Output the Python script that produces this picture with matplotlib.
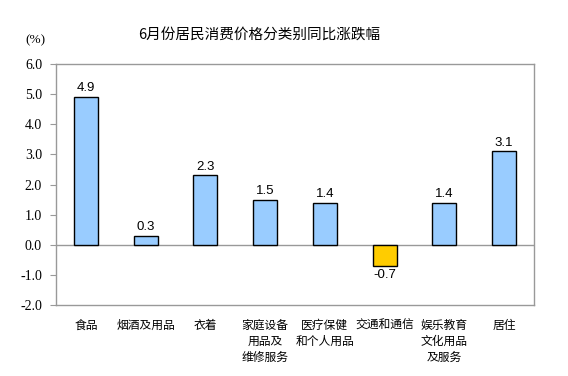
import numpy as np
import matplotlib
matplotlib.use('Agg')
import matplotlib.pyplot as plt

categories = ['食品', '烟酒及用品', '衣着', '家庭设备\n用品及\n维修服务',
              '医疗保健\n和个人用品', '交通和通信', '娱乐教育\n文化用品\n及服务', '居住']
values = [4.9, 0.3, 2.3, 1.5, 1.4, -0.7, 1.4, 3.1]
yticks = [-2.0, -1.0, 0.0, 1.0, 2.0, 3.0, 4.0, 5.0, 6.0]
title = '6月份居民消费价格分类别同比涨跌幅'

cjk = ['Noto Sans CJK SC', 'DejaVu Sans']
plt.rcParams['font.serif'] = ['Liberation Serif', 'Times New Roman', 'DejaVu Serif']
plt.rcParams['font.sans-serif'] = ['Liberation Sans', 'Arial', 'DejaVu Sans']

fig = plt.figure(figsize=(5.68, 3.76), dpi=100)
ax = fig.add_axes([0.0986, 0.1888, 0.8415, 0.641])

x = np.arange(len(values))
colors = ['#99CCFF' if v >= 0 else '#FFCC00' for v in values]
ax.bar(x, values, width=0.4, color=colors, edgecolor='black', linewidth=1.0, zorder=3)
ax.axhline(0, color='#999999', linewidth=1.0, zorder=2)

for xi, v in zip(x, values):
    if v >= 0:
        ax.annotate('{:.1f}'.format(v), (xi, v), xytext=(0, 2), textcoords='offset points',
                    ha='center', va='bottom', fontsize=9.5, family='sans-serif')
    else:
        ax.annotate('{:.1f}'.format(v), (xi, v), xytext=(0, -2), textcoords='offset points',
                    ha='center', va='top', fontsize=9.5, family='sans-serif')

ax.set_xlim(-0.5, len(values) - 0.5)
ax.set_ylim(-2.0, 6.0)
ax.set_yticks(yticks)
ax.set_yticklabels(['{:.1f}'.format(t) for t in yticks], family='serif', fontsize=10)
ax.tick_params(axis='y', direction='out', length=4, width=0.8, color='#999999', pad=6)
ax.set_xticks(x)
ax.set_xticklabels(categories, family=cjk, fontsize=8.5, linespacing=1.3, va='top')
ax.tick_params(axis='x', length=0, pad=10)

for s in ax.spines.values():
    s.set_color('#999999')
    s.set_linewidth(1.0)

fig.text(0.456, 0.907, title, ha='center', va='center', fontsize=10.5, family=cjk)
fig.text(0.062, 0.893, '(%)', ha='center', va='center', fontsize=9.5, family='serif')

plt.savefig('out.png', dpi=100)
plt.close()
